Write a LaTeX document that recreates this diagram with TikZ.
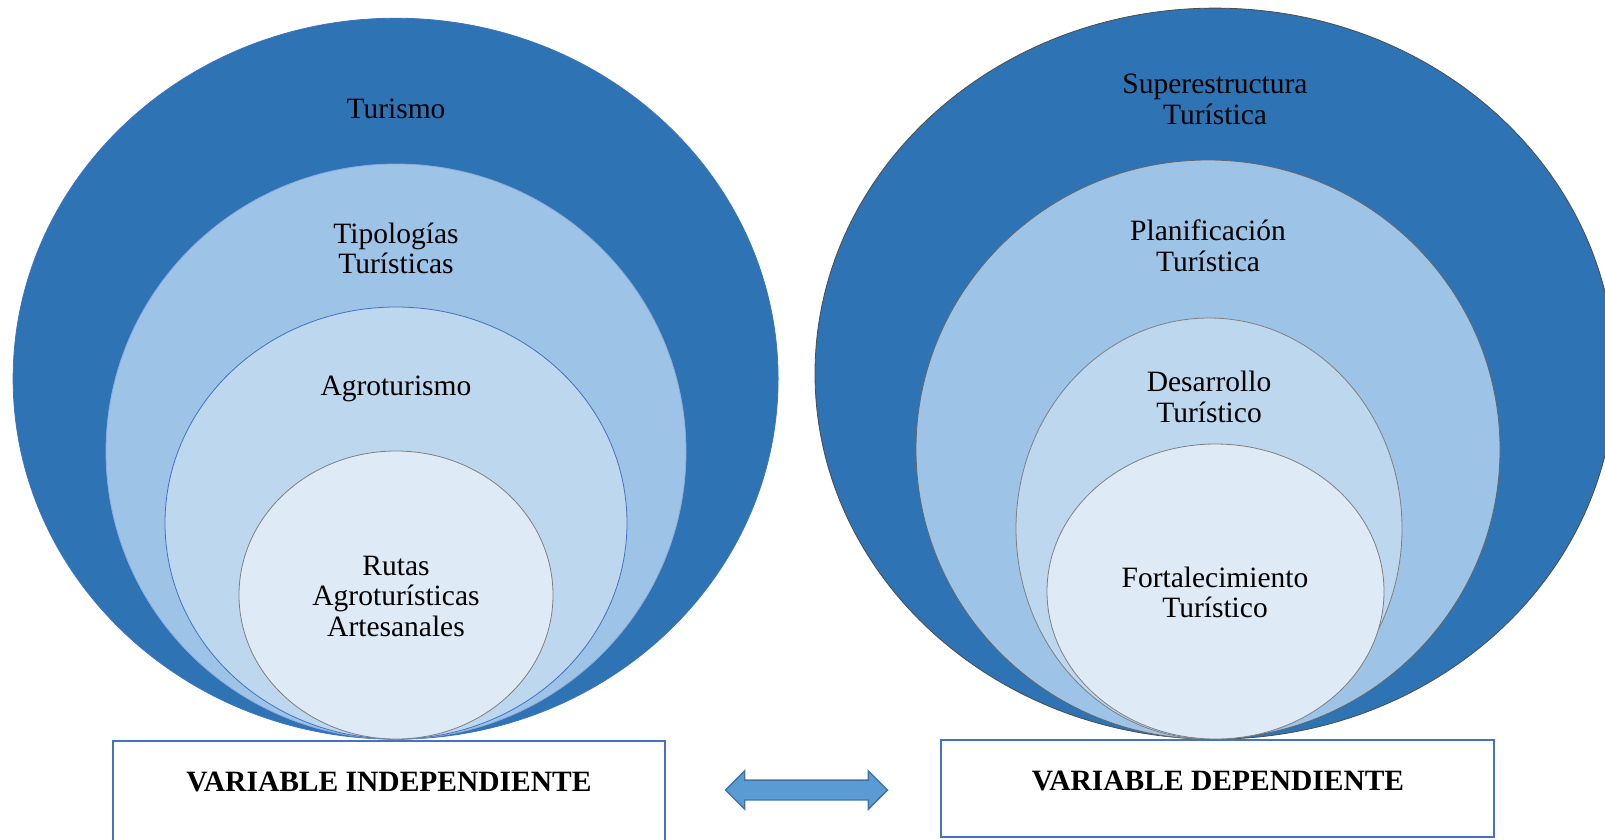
\documentclass[tikz,border=0pt]{standalone}
\usepackage{fontspec}
\setmainfont{Liberation Serif}
\usepackage{tikz}
\usetikzlibrary{shapes.geometric}
\usetikzlibrary{shapes.arrows}

\definecolor{azulosc}{HTML}{2E74B5}
\definecolor{azulmed}{HTML}{9DC3E6}
\definecolor{azulcla}{HTML}{BDD7EE}
\definecolor{azulpal}{HTML}{DEEBF7}
\definecolor{bordeazul}{HTML}{4472C4}
\definecolor{flechaazul}{HTML}{5B9BD5}
\definecolor{flechaborde}{HTML}{41719C}

\begin{document}
\begin{tikzpicture}[x=1pt,y=-1pt,
  aro/.style={ellipse, inner sep=0pt, line width=0.8pt},
  rotulo/.style={align=center, inner sep=0pt, font=\fontsize{29.5}{30.5}\selectfont},
  caja/.style={draw=bordeazul, line width=2.6pt, fill=white, inner sep=0pt}]
\useasboundingbox (0,0) rectangle (1605,839);
\clip (0,0) rectangle (1605,839);
% draws left circles
\node[aro, draw=bordeazul!70!azulosc, fill=azulosc, minimum width=765, minimum height=721] (turismo) at (395.6,378.7) {};
\node[aro, draw=bordeazul!60, fill=azulmed, minimum width=580, minimum height=575] (tipologias) at (396,451.5) {};
\node[aro, draw=bordeazul, fill=azulcla, minimum width=462, minimum height=432] (agro) at (396,523) {};
\node[aro, draw=gray, fill=azulpal, minimum width=314, minimum height=288] (rutas) at (396,595) {};
% draws right circles
\node[aro, draw=black!70, fill=azulosc, minimum width=800, minimum height=731] (superestr) at (1215,373.6) {};
\node[aro, draw=black!60, fill=azulmed, minimum width=584, minimum height=579] (planif) at (1208,449.5) {};
\node[aro, draw=black!50, fill=azulcla, minimum width=386, minimum height=421] (desarrollo) at (1209,528.5) {};
\node[aro, draw=black!50, fill=azulpal, minimum width=337, minimum height=295] (fortalec) at (1215.5,591.5) {};
% labels circles
\node[rotulo] (tturismo) at (396,108.5) {Turismo};
\node[rotulo] (ttipologias) at (396,248.5) {Tipologías\\Turísticas};
\node[rotulo] (tagro) at (396,389) {Agroturismo};
\node[rotulo] (trutas) at (396,596) {Rutas\\Agroturísticas\\Artesanales};
\node[rotulo] (tsuperestr) at (1215,99.5) {Superestructura\\Turística};
\node[rotulo] (tplanif) at (1208,245.5) {Planificación\\Turística};
\node[rotulo] (tdesarrollo) at (1209,397) {Desarrollo\\Turístico};
\node[rotulo] (tfortalec) at (1215,592.5) {Fortalecimiento\\Turístico};
% draws boxes
\node[caja, minimum width=552, minimum height=110] (indep) at (389,796) {};
\node[caja, minimum width=553, minimum height=97] (dep) at (1217.5,788.5) {};
\node[rotulo, font=\fontsize{29.5}{30.5}\selectfont\bfseries] (tindep) at (389,782) {VARIABLE INDEPENDIENTE};
\node[rotulo, font=\fontsize{29.5}{30.5}\selectfont\bfseries] (tdep) at (1218,781) {VARIABLE DEPENDIENTE};
% draws arrow
\node[double arrow, draw=flechaborde, fill=flechaazul, line width=1.4pt, inner xsep=0pt, inner ysep=9.25pt,
  minimum height=162, double arrow head extend=9.25] (flecha) at (806.5,790) {};
\end{tikzpicture}
\end{document}
